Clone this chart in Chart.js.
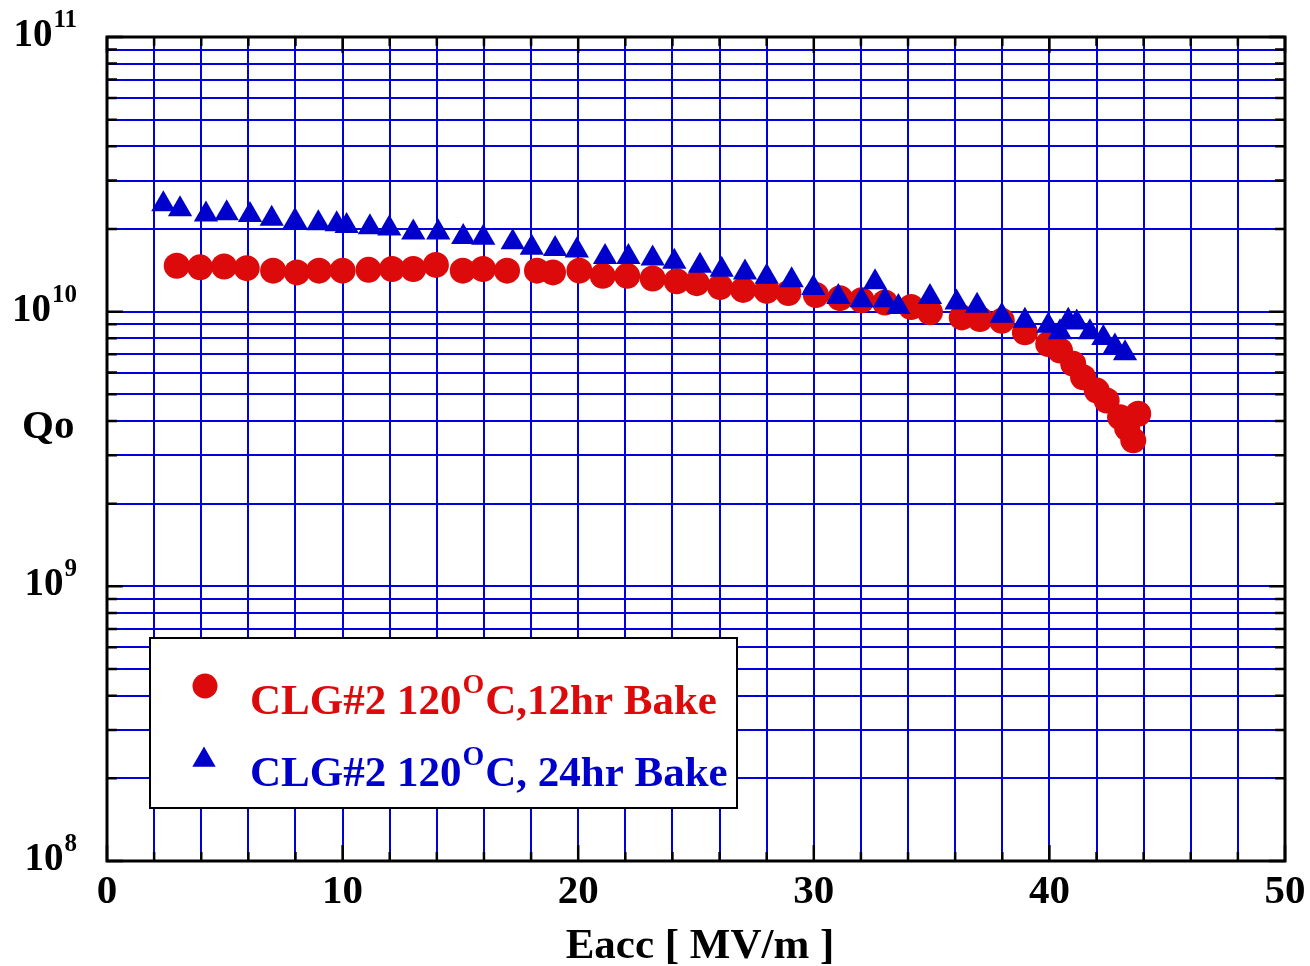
<!DOCTYPE html>
<html>
<head>
<meta charset="utf-8">
<title>Qo vs Eacc - CLG#2</title>
<script src="https://cdn.jsdelivr.net/npm/chart.js@4.4.1/dist/chart.umd.min.js"></script>
<style>
  body { margin: 0; background: #fff; }
  canvas { display: block; }
</style>
</head>
<body>
<canvas id="q_chart" width="1310" height="966"></canvas>
<script>
// data
const eacc_12hr = [2.96, 3.95, 4.97, 5.93, 7.05, 8.06, 9.0, 10.0, 11.1, 12.1, 13.0, 13.96, 15.1, 15.96, 16.98, 18.25, 18.93, 20.05, 21.04, 22.08, 23.16, 24.18, 25.03, 26.02, 27.0, 28.0, 28.92, 30.09, 31.11, 32.03, 33.02, 34.13, 34.93, 36.28, 37.05, 37.98, 38.96, 39.95, 40.45, 41.01, 41.43, 42.01, 42.43, 43.0, 43.3, 43.56, 43.77];
const q0_12hr = [1.47e10, 1.45e10, 1.46e10, 1.44e10, 1.41e10, 1.39e10, 1.41e10, 1.41e10, 1.42e10, 1.43e10, 1.43e10, 1.48e10, 1.41e10, 1.43e10, 1.41e10, 1.41e10, 1.39e10, 1.41e10, 1.35e10, 1.35e10, 1.32e10, 1.29e10, 1.27e10, 1.23e10, 1.20e10, 1.19e10, 1.17e10, 1.15e10, 1.12e10, 1.10e10, 1.08e10, 1.04e10, 9.95e9, 9.53e9, 9.4e9, 9.27e9, 8.41e9, 7.63e9, 7.22e9, 6.46e9, 5.77e9, 5.16e9, 4.75e9, 4.13e9, 3.76e9, 3.40e9, 4.25e9];

const eacc_24hr = [2.39, 3.10, 4.20, 5.08, 6.07, 6.99, 7.98, 8.97, 9.75, 10.17, 11.16, 11.98, 13.0, 14.06, 15.12, 15.97, 17.22, 18.03, 19.02, 19.94, 21.14, 22.13, 23.16, 24.08, 25.17, 26.09, 27.08, 28.0, 29.06, 29.98, 31.04, 32.03, 32.6, 33.02, 33.59, 34.93, 36.06, 36.93, 37.98, 38.96, 39.95, 40.45, 40.80, 41.16, 41.72, 42.29, 42.78, 43.21];
const q0_24hr = [2.46e10, 2.36e10, 2.26e10, 2.28e10, 2.25e10, 2.18e10, 2.14e10, 2.10e10, 2.08e10, 2.05e10, 2.03e10, 2.01e10, 1.94e10, 1.94e10, 1.87e10, 1.86e10, 1.79e10, 1.71e10, 1.69e10, 1.67e10, 1.58e10, 1.58e10, 1.56e10, 1.52e10, 1.47e10, 1.42e10, 1.39e10, 1.34e10, 1.30e10, 1.22e10, 1.13e10, 1.10e10, 1.28e10, 1.10e10, 1.04e10, 1.13e10, 1.08e10, 1.05e10, 9.66e9, 9.27e9, 8.89e9, 8.41e9, 9.27e9, 9.14e9, 8.41e9, 8.02e9, 7.46e9, 7.05e9];

// tick labels
const xTickLabels = [0, 10, 20, 30, 40, 50];
const yTickExps = [8, 9, 10, 11];

// legend text: [before superscript, superscript, after]
const legend_12hr = ["CLG#2 120", "O", "C,12hr Bake"];
const legend_24hr = ["CLG#2 120", "O", "C, 24hr Bake"];

const RED = "#dc0a0a";
const BLUE = "#0000cc";
const GRID = "#0000dd";
const FONT = "'Liberation Serif', 'Times New Roman', serif";

function toPoints(xs, ys) {
  return xs.map((x, i) => ({ x: x, y: ys[i] }));
}

// text with one superscript part, drawn left aligned
function supText(ctx, parts, x, y, size, supSize, supRise) {
  ctx.textAlign = "left";
  ctx.font = "bold " + size + "px " + FONT;
  ctx.fillText(parts[0], x, y);
  x += ctx.measureText(parts[0]).width;
  ctx.font = "bold " + supSize + "px " + FONT;
  ctx.fillText(parts[1], x + 1, y - supRise);
  x += ctx.measureText(parts[1]).width + 2;
  ctx.font = "bold " + size + "px " + FONT;
  ctx.fillText(parts[2], x, y);
}

const framePlugin = {
  id: "frame",
  beforeDatasetsDraw(chart) {
    const { ctx, chartArea: a, scales: { x, y } } = chart;
    ctx.save();
    ctx.strokeStyle = "#000";
    ctx.lineWidth = 2.5;
    ctx.beginPath();
    x.ticks.forEach(t => {
      const px = x.getPixelForValue(t.value);
      const len = t.value % 10 === 0 ? 16 : 9;
      ctx.moveTo(px, a.bottom); ctx.lineTo(px, a.bottom - len);
      ctx.moveTo(px, a.top); ctx.lineTo(px, a.top + len);
    });
    y.ticks.forEach(t => {
      const py = y.getPixelForValue(t.value);
      const lg = Math.log10(t.value);
      const len = Math.abs(lg - Math.round(lg)) < 1e-6 ? 16 : 10;
      ctx.moveTo(a.left, py); ctx.lineTo(a.left + len, py);
      ctx.moveTo(a.right, py); ctx.lineTo(a.right - len, py);
    });
    ctx.stroke();
    ctx.lineWidth = 3;
    ctx.strokeRect(a.left, a.top, a.right - a.left, a.bottom - a.top);
    ctx.restore();
  },
  afterDraw(chart) {
    const { ctx, chartArea: a, scales: { x, y } } = chart;
    ctx.save();
    ctx.fillStyle = "#000";
    ctx.textBaseline = "alphabetic";

    // x tick labels
    ctx.font = "bold 41px " + FONT;
    ctx.textAlign = "center";
    xTickLabels.forEach(v => {
      ctx.fillText(String(v), x.getPixelForValue(v), a.bottom + 42);
    });

    // y tick labels 10^n
    yTickExps.forEach(e => {
      const py = y.getPixelForValue(Math.pow(10, e));
      const right = 77;
      ctx.font = "bold 25px " + FONT;
      ctx.textAlign = "right";
      const sw = ctx.measureText(String(e)).width;
      ctx.fillText(String(e), right, py - 10);
      ctx.font = "bold 39px " + FONT;
      ctx.fillText("10", right - sw - 1, py + 9);
    });

    // axis titles
    ctx.font = "bold 43px " + FONT;
    ctx.textAlign = "center";
    ctx.fillText("Eacc [ MV/m ]", 700, 958);
    ctx.font = "bold 41px " + FONT;
    ctx.textAlign = "left";
    ctx.fillText("Qo", 22, 438);

    // legend box
    ctx.fillStyle = "#fff";
    ctx.fillRect(150, 638, 587, 170);
    ctx.strokeStyle = "#000";
    ctx.lineWidth = 2;
    ctx.strokeRect(150, 638, 587, 170);

    ctx.fillStyle = RED;
    Chart.helpers.drawPoint(ctx, { pointStyle: "circle", radius: 12.5, rotation: 0, borderWidth: 0 }, 205, 686);
    supText(ctx, legend_12hr, 250, 714, 43, 28, 21);

    ctx.fillStyle = BLUE;
    Chart.helpers.drawPoint(ctx, { pointStyle: "triangle", radius: 13.5, rotation: 0, borderWidth: 0 }, 204, 760);
    supText(ctx, legend_24hr, 250, 786, 43, 28, 21);

    ctx.restore();
  }
};

const ctx = document.getElementById("q_chart").getContext("2d");
let my_chart = new Chart(ctx, {
  type: "scatter",
  data: {
    datasets: [
      {
        label: "CLG#2 120OC,12hr Bake",
        data: toPoints(eacc_12hr, q0_12hr),
        pointStyle: "circle",
        pointRadius: 13,
        backgroundColor: RED,
        borderColor: RED,
        borderWidth: 0,
        order: 1,
      },
      {
        label: "CLG#2 120OC, 24hr Bake",
        data: toPoints(eacc_24hr, q0_24hr),
        pointStyle: "triangle",
        pointRadius: 14,
        backgroundColor: BLUE,
        borderColor: BLUE,
        borderWidth: 0,
        order: 0,
      },
    ],
  },
  options: {
    responsive: false,
    animation: false,
    layout: { padding: { left: 107, right: 25, top: 37, bottom: 105 } },
    plugins: {
      legend: { display: false },
      tooltip: { enabled: false },
    },
    scales: {
      x: {
        type: "linear",
        min: 0,
        max: 50,
        ticks: { display: false, stepSize: 2 },
        grid: { color: GRID, lineWidth: 2, drawTicks: false },
        border: { display: false },
      },
      y: {
        type: "logarithmic",
        min: 1e8,
        max: 1e11,
        ticks: { display: false, autoSkip: false },
        grid: { color: GRID, lineWidth: 2, drawTicks: false },
        border: { display: false },
        afterBuildTicks(scale) {
          const t = [];
          for (let e = 8; e < 11; e++) {
            for (let m = 1; m < 10; m++) t.push({ value: m * Math.pow(10, e) });
          }
          t.push({ value: 1e11 });
          scale.ticks = t;
        },
      },
    },
  },
  plugins: [framePlugin],
});
</script>
</body>
</html>
